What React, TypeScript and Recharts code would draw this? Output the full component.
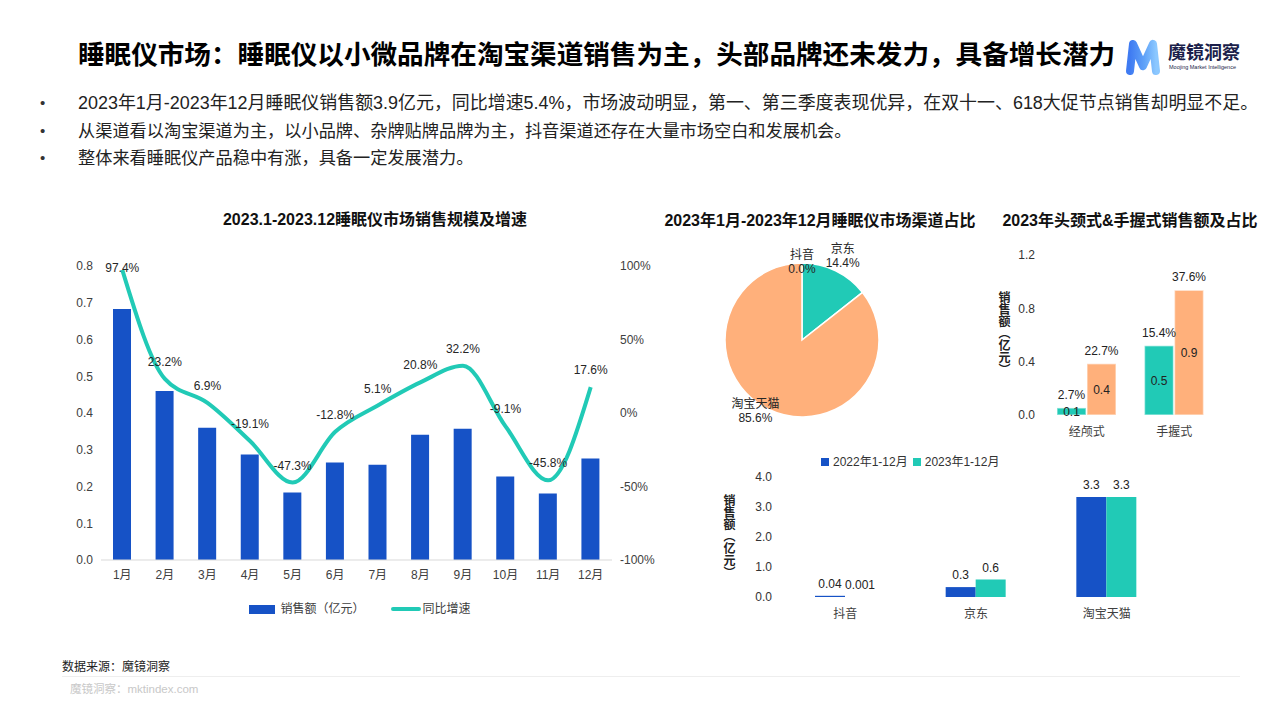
import React from "react";
import {
  ComposedChart,
  BarChart,
  PieChart,
  Pie,
  Cell,
  Bar,
  Line,
  XAxis,
  YAxis,
  Legend,
  LabelList,
} from "recharts";

const FONT = '"Liberation Sans", Arial, "Noto Sans CJK SC", sans-serif';
const BLUE = "#1652C6";
const TEAL = "#21CAB6";
const ORANGE = "#FFB07B";
const TEXT = "#333333";

// 2023 monthly sales (亿元) and YoY growth (%)
const months = ["1月", "2月", "3月", "4月", "5月", "6月", "7月", "8月", "9月", "10月", "11月", "12月"];
const monthlySales = [0.683, 0.46, 0.36, 0.287, 0.184, 0.265, 0.259, 0.341, 0.357, 0.227, 0.181, 0.276];
const monthlyGrowth = [97.4, 23.2, 6.9, -19.1, -47.3, -12.8, 5.1, 20.8, 32.2, -9.1, -45.8, 17.6];

// channel share (%)
const channels = ["京东", "淘宝天猫", "抖音"];
const channelShare = [14.4, 85.6, 0.0];
const channelColors = [TEAL, ORANGE, BLUE];

// head / handheld type
const deviceTypes = ["经颅式", "手握式"];
const tealSales = [0.053, 0.52];
const tealShare = ["2.7%", "15.4%"];
const orangeSales = [0.385, 0.935];
const orangeShare = ["22.7%", "37.6%"];

// channel sales by year (亿元)
const channelNames = ["抖音", "京东", "淘宝天猫"];
const sales2022 = [0.04, 0.33, 3.33];
const sales2022Text = ["0.04", "0.3", "3.3"];
const sales2023 = [0.001, 0.58, 3.33];
const sales2023Text = ["0.001", "0.6", "3.3"];

const bullets = [
  "2023年1月-2023年12月睡眠仪销售额3.9亿元，同比增速5.4%，市场波动明显，第一、第三季度表现优异，在双十一、618大促节点销售却明显不足。",
  "从渠道看以淘宝渠道为主，以小品牌、杂牌贴牌品牌为主，抖音渠道还存在大量市场空白和发展机会。",
  "整体来看睡眠仪产品稳中有涨，具备一定发展潜力。",
];
const bulletY = [103, 131, 158];
const bulletSize = [17.95, 17.2, 17.2];

const tick12 = { fontSize: 12, fill: "#404040" };

const renderGrowthLabel = (props: any) => {
  const { x, y, value } = props;
  return (
    <text x={x} y={Math.max(y - 17, 38)} textAnchor="middle" dominantBaseline="central" fontSize={12} fill="#262626">
      {`${Number(value).toFixed(1)}%`}
    </text>
  );
};

const renderMainLegend = (props: any) => {
  const payload = [...(props.payload || [])].sort((a: any, b: any) => (a.type === "line" ? 1 : 0) - (b.type === "line" ? 1 : 0));
  return (
    <div style={{ display: "flex", justifyContent: "center", alignItems: "center", gap: 26, fontSize: 12, color: "#404040", lineHeight: "16px" }}>
      {payload.map((entry: any) => (
        <div key={entry.value} style={{ display: "flex", alignItems: "center" }}>
          {entry.type === "line" ? (
            <span style={{ display: "inline-block", width: 30, height: 4, borderRadius: 2, background: entry.color, marginRight: 2 }} />
          ) : (
            <span style={{ display: "inline-block", width: 26, height: 9, background: entry.color, marginRight: 5 }} />
          )}
          <span>{entry.value}</span>
        </div>
      ))}
    </div>
  );
};

const renderSquareLegend = (props: any) => {
  const { payload } = props;
  return (
    <div style={{ display: "flex", alignItems: "center", gap: 5, fontSize: 12, color: "#333", lineHeight: "16px", whiteSpace: "nowrap" }}>
      {payload.map((entry: any) => (
        <div key={entry.value} style={{ display: "flex", alignItems: "center" }}>
          <span style={{ display: "inline-block", width: 8, height: 8, background: entry.color, marginRight: 4 }} />
          <span>{entry.value}</span>
        </div>
      ))}
    </div>
  );
};

const renderPieLabel = (props: any) => {
  const { cx, cy, midAngle, outerRadius, name, value, percent } = props;
  const r = outerRadius + (percent > 0.5 ? 2 : percent > 0.01 ? 16 : 1);
  const rad = (Math.PI / 180) * midAngle;
  const x = cx + r * Math.cos(rad) - (percent > 0.5 ? 12 : 0);
  const y = cy - r * Math.sin(rad);
  return (
    <text x={x} y={y} textAnchor="middle" fontSize={12} fill="#262626" dominantBaseline="central">
      <tspan x={x} dy={-7}>{name}</tspan>
      <tspan x={x} dy={14}>{`${Number(value).toFixed(1)}%`}</tspan>
    </text>
  );
};

const abs = (left: number, top: number, extra: any = {}) => ({ position: "absolute" as const, left, top, ...extra });

export default function App() {
  const monthlyData = months.map((m, i) => ({ month: m, sales: monthlySales[i], growth: monthlyGrowth[i] }));
  const pieData = channels.map((c, i) => ({ name: c, value: channelShare[i] }));
  const typeData = deviceTypes.map((t, i) => ({
    type: t,
    teal: tealSales[i],
    tealPct: tealShare[i],
    orange: orangeSales[i],
    orangePct: orangeShare[i],
  }));
  const channelData = channelNames.map((c, i) => ({
    channel: c,
    y2022: sales2022[i],
    y2022Text: sales2022Text[i],
    y2023: sales2023[i],
    y2023Text: sales2023Text[i],
  }));

  return (
    <div style={{ position: "absolute", left: 0, top: 0, width: 1280, height: 720, background: "#fff", fontFamily: FONT, overflow: "hidden", color: TEXT }}>
      {/* heading */}
      <div style={abs(78, 41, { fontSize: 26.6, fontWeight: 700, lineHeight: "28px", color: "#000", whiteSpace: "nowrap" })}>
        睡眠仪市场：睡眠仪以小微品牌在淘宝渠道销售为主，头部品牌还未发力，具备增长潜力
      </div>

      {/* logo */}
      <svg style={abs(1118, 34)} width={50} height={46}>
        <defs>
          <linearGradient id="logoGrad" x1="0" y1="0" x2="1" y2="0">
            <stop offset="0%" stopColor="#3F7BF2" />
            <stop offset="55%" stopColor="#5FA2F8" />
            <stop offset="100%" stopColor="#8CC8FF" />
          </linearGradient>
        </defs>
        <polyline points="12,37 15,10 25,32 35,10 38,37" fill="none" stroke="url(#logoGrad)" strokeWidth={8} strokeLinejoin="round" strokeLinecap="round" />
      </svg>
      <div style={abs(1168, 43, { fontSize: 18, fontWeight: 700, color: "#1B1F4B", lineHeight: "20px", whiteSpace: "nowrap" })}>魔镜洞察</div>
      <div style={abs(1169, 64, { fontSize: 5.5, color: "#1B1F4B", lineHeight: "7px", whiteSpace: "nowrap" })}>Moojing Market Intelligence</div>

      {/* bullets */}
      {bullets.map((b, i) => (
        <React.Fragment key={i}>
          <div style={abs(40, bulletY[i] - 9, { fontSize: 15, lineHeight: "18px" })}>•</div>
          <div style={abs(78, bulletY[i] - 9, { fontSize: bulletSize[i], lineHeight: "18px", color: "#222", whiteSpace: "nowrap" })}>{b}</div>
        </React.Fragment>
      ))}

      {/* left chart */}
      <div style={abs(55, 210, { width: 640, textAlign: "center", fontSize: 16, fontWeight: 700, lineHeight: "20px", color: "#111" })}>
        2023.1-2023.12睡眠仪市场销售规模及增速
      </div>
      <div style={abs(40, 230)}>
        <ComposedChart width={640} height={400} data={monthlyData} margin={{ top: 36, right: 18, bottom: 40, left: 21 }}>
          <XAxis dataKey="month" interval={0} tickLine={false} axisLine={{ stroke: "#d9d9d9" }} tick={tick12} tickMargin={4} height={30} />
          <YAxis
            yAxisId="left"
            width={40}
            domain={[0, 0.8]}
            ticks={[0, 0.1, 0.2, 0.3, 0.4, 0.5, 0.6, 0.7, 0.8]}
            tickFormatter={(v: number) => v.toFixed(1)}
            axisLine={false}
            tickLine={false}
            tick={tick12}
          />
          <YAxis
            yAxisId="right"
            orientation="right"
            width={50}
            domain={[-100, 100]}
            ticks={[-100, -50, 0, 50, 100]}
            tickFormatter={(v: number) => `${v}%`}
            axisLine={false}
            tickLine={false}
            tick={tick12}
          />
          <Bar yAxisId="left" dataKey="sales" name="销售额（亿元）" fill={BLUE} barSize={18} isAnimationActive={false} />
          <Line
            yAxisId="right"
            dataKey="growth"
            name="同比增速"
            type="monotone"
            stroke={TEAL}
            strokeWidth={4}
            dot={false}
            isAnimationActive={false}
          >
            <LabelList dataKey="growth" content={renderGrowthLabel} />
          </Line>
          <Legend
            layout="horizontal"
            verticalAlign="middle"
            align="center"
            content={renderMainLegend}
            wrapperStyle={{ top: 371, left: 0, width: 640 }}
          />
        </ComposedChart>
      </div>

      {/* pie chart */}
      <div style={abs(660, 211, { width: 320, textAlign: "center", fontSize: 16, fontWeight: 700, lineHeight: "20px", color: "#111", whiteSpace: "nowrap" })}>
        2023年1月-2023年12月睡眠仪市场渠道占比
      </div>
      <div style={abs(700, 240)}>
        <PieChart width={200} height={200} margin={{ top: 0, right: 0, bottom: 0, left: 0 }}>
          <Pie
            data={pieData}
            dataKey="value"
            nameKey="name"
            cx={102}
            cy={100}
            outerRadius={77}
            startAngle={90}
            endAngle={-270}
            stroke="#ffffff"
            strokeWidth={1.5}
            label={renderPieLabel}
            labelLine={false}
            isAnimationActive={false}
          >
            {pieData.map((_, i) => (
              <Cell key={`cell-${i}`} fill={channelColors[i]} />
            ))}
          </Pie>
        </PieChart>
      </div>

      {/* top right chart */}
      <div style={abs(995, 211, { width: 270, textAlign: "center", fontSize: 16, fontWeight: 700, lineHeight: "20px", color: "#111", whiteSpace: "nowrap" })}>
        2023年头颈式&手握式销售额及占比
      </div>
      <div style={abs(997, 291, { writingMode: "vertical-rl", fontSize: 12, fontWeight: 700, lineHeight: "12px", color: "#222" })}>销售额（亿元）</div>
      <div style={abs(1000, 230)}>
        <BarChart width={240} height={215} data={typeData} margin={{ top: 25, right: 22, bottom: 0, left: 13 }} barGap={1}>
          <XAxis
            xAxisId="grid"
            type="number"
            domain={[0, 2]}
            ticks={[0, 1, 2]}
            allowDataOverflow
            height={0}
            tick={false}
            tickSize={5}
            axisLine={{ stroke: "#d9d9d9" }}
            tickLine={{ stroke: "#d9d9d9" }}
          />
          <XAxis xAxisId="cat" dataKey="type" axisLine={false} tickLine={false} tick={tick12} tickMargin={6} height={30} />
          <YAxis
            width={30}
            domain={[0, 1.2]}
            ticks={[0, 0.4, 0.8, 1.2]}
            tickFormatter={(v: number) => v.toFixed(1)}
            axisLine={false}
            tickLine={false}
            tick={{ fontSize: 12, fill: "#333" }}
          />
          <Bar xAxisId="cat" dataKey="teal" fill={TEAL} stroke="#ffffff" strokeOpacity={0.5} strokeWidth={1.5} barSize={29} isAnimationActive={false}>
            <LabelList dataKey="teal" position="center" formatter={(v: number) => v.toFixed(1)} style={{ fontSize: 12, fill: "#222" }} />
            <LabelList dataKey="tealPct" position="top" offset={9} style={{ fontSize: 12, fill: "#222" }} />
          </Bar>
          <Bar xAxisId="cat" dataKey="orange" fill={ORANGE} stroke="#ffffff" strokeOpacity={0.5} strokeWidth={1.5} barSize={29} isAnimationActive={false}>
            <LabelList dataKey="orange" position="center" formatter={(v: number) => v.toFixed(1)} style={{ fontSize: 12, fill: "#222" }} />
            <LabelList dataKey="orangePct" position="top" offset={9} style={{ fontSize: 12, fill: "#222" }} />
          </Bar>
        </BarChart>
      </div>

      {/* bottom right chart */}
      <div style={abs(722, 494, { writingMode: "vertical-rl", fontSize: 12, fontWeight: 700, lineHeight: "12px", color: "#222" })}>销售额（亿元）</div>
      <div style={abs(720, 440)}>
        <BarChart width={470} height={187} data={channelData} margin={{ top: 37, right: 18, bottom: 0, left: 30 }} barGap={0}>
          <XAxis
            xAxisId="grid"
            type="number"
            domain={[0, 3]}
            ticks={[0, 1, 2, 3]}
            allowDataOverflow
            height={0}
            tick={false}
            tickSize={5}
            axisLine={{ stroke: "#d9d9d9" }}
            tickLine={{ stroke: "#d9d9d9" }}
          />
          <XAxis xAxisId="cat" dataKey="channel" axisLine={false} tickLine={false} tick={tick12} tickMargin={6} height={30} />
          <YAxis
            width={30}
            domain={[0, 4]}
            ticks={[0, 1, 2, 3, 4]}
            tickFormatter={(v: number) => v.toFixed(1)}
            axisLine={false}
            tickLine={false}
            tick={{ fontSize: 12, fill: "#333" }}
          />
          <Bar xAxisId="cat" dataKey="y2022" name="2022年1-12月" fill={BLUE} barSize={30} isAnimationActive={false}>
            <LabelList dataKey="y2022Text" position="top" offset={8} style={{ fontSize: 12, fill: "#222" }} />
          </Bar>
          <Bar xAxisId="cat" dataKey="y2023" name="2023年1-12月" fill={TEAL} barSize={30} isAnimationActive={false}>
            <LabelList dataKey="y2023Text" position="top" offset={8} style={{ fontSize: 12, fill: "#222" }} />
          </Bar>
          <Legend
            layout="horizontal"
            verticalAlign="middle"
            align="center"
            content={renderSquareLegend}
            wrapperStyle={{ top: 14, left: 101, width: "auto" }}
          />
        </BarChart>
      </div>

      {/* footer */}
      <div style={abs(62, 659, { fontSize: 12, lineHeight: "16px", color: "#222", whiteSpace: "nowrap" })}>数据来源：魔镜洞察</div>
      <div style={abs(62, 676, { width: 1178, height: 1, background: "#eeeeee" })} />
      <div style={abs(70, 682, { fontSize: 11.5, lineHeight: "14px", color: "#c8c8c8", whiteSpace: "nowrap" })}>魔镜洞察：mktindex.com</div>
    </div>
  );
}
